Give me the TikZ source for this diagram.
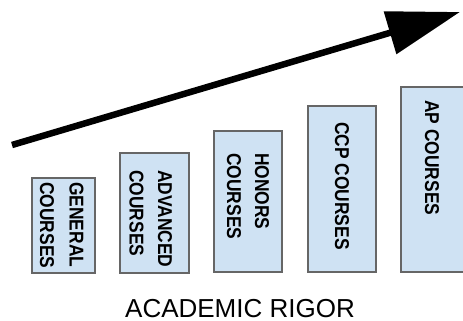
\documentclass[tikz,border=0pt]{standalone}
\usepackage{fontspec}
\setmainfont{Liberation Sans}
\usetikzlibrary{arrows.meta}
\definecolor{boxfill}{HTML}{CFE2F3}
\definecolor{boxline}{HTML}{666666}
\newcommand\sqz[1]{\scalebox{0.87}[1]{#1}}
\begin{document}
\begin{tikzpicture}[x=1pt,y=-1pt,
  crsbox/.style={draw=boxline,line width=2pt,fill=boxfill,rectangle,inner sep=0pt},
  lbl/.style={rotate=-90,anchor=west,inner sep=0pt,font=\fontsize{20}{24}\selectfont\bfseries},
  bigarrow/.style={line width=6.5pt,-{Triangle[length=73pt,width=43pt]}}]
\useasboundingbox (0,0) rectangle (463,321);
\clip (0,0) rectangle (463,321);
% boxes
\node[crsbox,minimum width=63pt,minimum height=95pt] (gen) at (63.5,225.5) {};
\node[crsbox,minimum width=69pt,minimum height=120pt] (adv) at (154.5,213) {};
\node[crsbox,minimum width=68pt,minimum height=141pt] (hon) at (248,201.5) {};
\node[crsbox,minimum width=68pt,minimum height=166pt] (ccp) at (342,189) {};
\node[crsbox,minimum width=70pt,minimum height=185pt] (ap) at (436,179.5) {};
% labels
\node[lbl] (genA) at (76.5,182) {\sqz{GENERAL}};
\node[lbl] (genB) at (47,182) {\sqz{COURSES}};
\node[lbl] (advA) at (165,170) {\sqz{ADVANCED}};
\node[lbl] (advB) at (136.5,170) {\sqz{COURSES}};
\node[lbl] (honA) at (262,153) {\sqz{HONORS}};
\node[lbl] (honB) at (234,153) {\sqz{COURSES}};
\node[lbl] (ccpA) at (342,122) {\sqz{CCP COURSES}};
\node[lbl] (apA) at (432,100) {\sqz{AP COURSES}};
% arrow
\coordinate (as) at (12,145);
\coordinate (ae) at (460,12);
\draw[bigarrow] (as) -- (ae);
% caption
\node[anchor=base,inner sep=0pt,font=\fontsize{26}{30}\selectfont] (cap) at (240,317) {ACADEMIC RIGOR};
\end{tikzpicture}
\end{document}
